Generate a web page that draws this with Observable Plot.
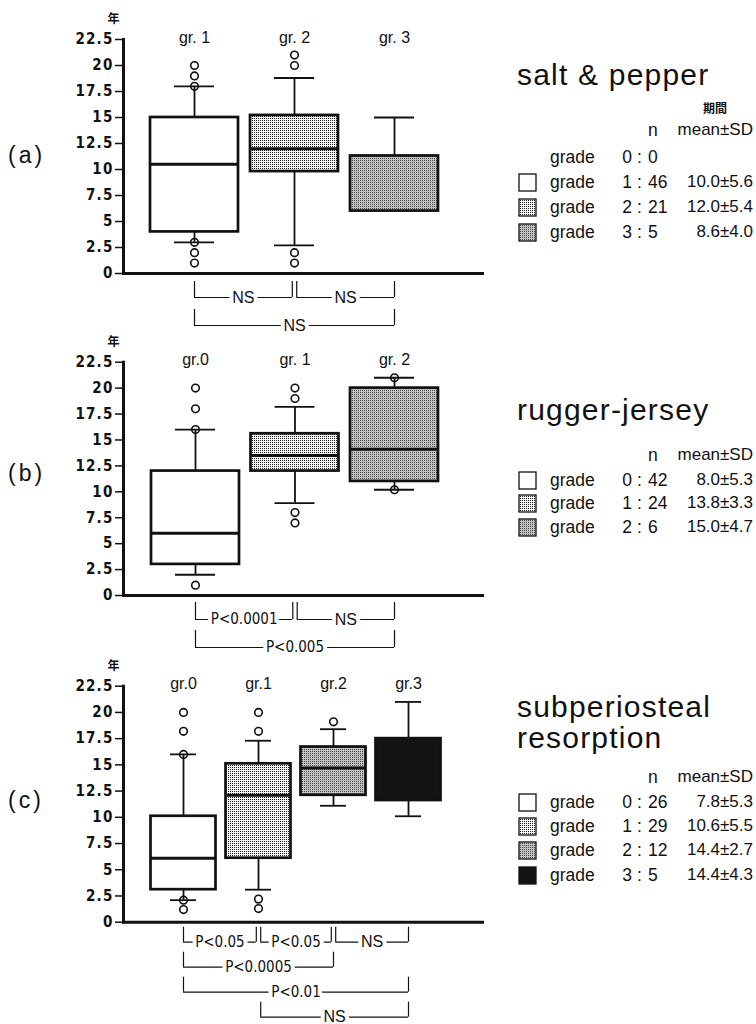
<!DOCTYPE html>
<html><head><meta charset="utf-8">
<script src="https://cdn.jsdelivr.net/npm/d3@7"></script>
<script src="https://cdn.jsdelivr.net/npm/@observablehq/plot@0.6"></script>
<style>
body{margin:0;background:#fff;}
#fig{position:relative;width:756px;height:1024px;overflow:hidden;font-family:"Liberation Sans",Arial,sans-serif;color:#111;background:#fff;}
.panel{position:absolute;left:0;}
.plab{position:absolute;left:8px;font-size:23px;letter-spacing:3px;line-height:24px;}
.ltitle{position:absolute;left:517px;font-size:30px;line-height:30px;letter-spacing:1.2px;white-space:nowrap;}
.abs{position:absolute;white-space:nowrap;line-height:20px;height:20px;}
.lg{font-size:17.5px;}
.num{font-size:17px;}
.kanji{font-family:"Noto Sans CJK JP",sans-serif;font-weight:bold;font-size:12px;}
g[aria-label="y-axis tick label"] text{letter-spacing:1.2px;}
</style>
</head><body>
<svg width="0" height="0" style="position:absolute">
<defs>
<pattern id="dot1" width="2" height="2" patternUnits="userSpaceOnUse"><rect width="2" height="2" fill="#f4f4f4"/><rect width="1" height="1" fill="#222"/></pattern>
<pattern id="dot2" width="2" height="2" patternUnits="userSpaceOnUse"><rect width="2" height="2" fill="#c2c2c2"/><rect width="1" height="1" fill="#4a4a4a"/></pattern>
</defs></svg>
<div id="fig"></div>
<script>
const yTicks = [0, 2.5, 5, 7.5, 10, 12.5, 15, 17.5, 20, 22.5];

// ---- (a) salt & pepper ----
const groupsA = ["gr. 1", "gr. 2", "gr. 3"];
const q1A = [4, 9.8, 6];
const medA = [10.5, 12, null];
const q3A = [15, 15.2, 11.3];
const loA = [3, 2.7, null];
const hiA = [18, 18.8, 15];
const outA = [[20, 19, 18, 3, 2, 1], [21, 20, 2, 1], []];
const bracketsA = [[0, 1, 0, "NS"], [1, 2, 0, "NS"], [0, 2, 1, "NS"]];
const titleA = ["salt & pepper"];
const gradeA = ["0", "1", "2", "3"];
const nA = ["0", "46", "21", "5"];
const meanA = ["", "10.0±5.6", "12.0±5.4", "8.6±4.0"];

// ---- (b) rugger-jersey ----
const groupsB = ["gr.0", "gr. 1", "gr. 2"];
const q1B = [3, 12, 11];
const medB = [6, 13.5, 14.1];
const q3B = [12, 15.6, 20];
const loB = [2, 8.9, 10.2];
const hiB = [16, 18.2, 21];
const outB = [[20, 18, 16, 1], [20, 19, 8, 7], [21, 10.2]];
const bracketsB = [[0, 1, 0, "P<0.0001"], [1, 2, 0, "NS"], [0, 2, 1, "P<0.005"]];
const titleB = ["rugger-jersey"];
const gradeB = ["0", "1", "2"];
const nB = ["42", "24", "6"];
const meanB = ["8.0±5.3", "13.8±3.3", "15.0±4.7"];

// ---- (c) subperiosteal resorption ----
const groupsC = ["gr.0", "gr.1", "gr.2", "gr.3"];
const q1C = [3.1, 6.1, 12.1, 11.6];
const medC = [6.1, 12.1, 14.7, null];
const q3C = [10.1, 15.1, 16.7, 17.5];
const loC = [2.1, 3.1, 11.1, 10.1];
const hiC = [16, 17.3, 18.4, 21];
const outC = [[20, 18.2, 16, 2.1, 1.2], [20, 18.2, 2.2, 1.3], [19.1], []];
const bracketsC = [[0, 1, 0, "P<0.05"], [1, 2, 0, "P<0.05"], [2, 3, 0, "NS"], [0, 2, 1, "P<0.0005"], [0, 3, 2, "P<0.01"], [1, 3, 3, "NS"]];
const titleC = ["subperiosteal", "resorption"];
const gradeC = ["0", "1", "2", "3"];
const nC = ["26", "29", "12", "5"];
const meanC = ["7.8±5.3", "10.6±5.5", "14.4±2.7", "14.4±4.3"];

// ---- layout / style ----
const NARROW = '"Liberation Sans Narrow","DejaVu Sans Condensed","Roboto Condensed",sans-serif';
const panels = [
  {d:{groups:groupsA,q1:q1A,med:medA,q3:q3A,lo:loA,hi:hiA,out:outA,brackets:bracketsA},
   L:{top:0,height:335,y22:39,y0:273,c0:194,c1:394,hw:44,cap:20,rowTop:8,rowGap:28,rowH:16,
      fills:["#fff","url(#dot1)","url(#dot2)"],label:"(a)",labelY:155},
   G:{title:titleA,titleTops:[60],kanji:true,kanjiY:108,headerY:130,rowsY:[157,182,207,232],
      grade:gradeA,n:nA,mean:meanA,fills:[null,"#fff","url(#dot1)","url(#dot2)"]}},
  {d:{groups:groupsB,q1:q1B,med:medB,q3:q3B,lo:loB,hi:hiB,out:outB,brackets:bracketsB},
   L:{top:322,height:335,y22:361.7,y0:595,c0:195,c1:394,hw:44,cap:20,rowTop:7,rowGap:28,rowH:17,
      fills:["#fff","url(#dot1)","url(#dot2)"],label:"(b)",labelY:473},
   G:{title:titleB,titleTops:[395],kanji:false,headerY:455,rowsY:[480,503,527],
      grade:gradeB,n:nB,mean:meanB,fills:["#fff","url(#dot1)","url(#dot2)"]}},
  {d:{groups:groupsC,q1:q1C,med:medC,q3:q3C,lo:loC,hi:hiC,out:outC,brackets:bracketsC},
   L:{top:645,height:379,y22:685.7,y0:921.7,c0:183,c1:408,hw:32.5,cap:13,rowTop:5,rowGap:25,rowH:15,
      fills:["#fff","url(#dot1)","url(#dot2)","#141414"],label:"(c)",labelY:800},
   G:{title:titleC,titleTops:[692,723],kanji:false,headerY:777,rowsY:[802,826,850,875],
      grade:gradeC,n:nC,mean:meanC,fills:["#fff","url(#dot1)","url(#dot2)","#141414"]}}
];

const fig = document.getElementById("fig");

function makePanel(d, L) {
  const n = d.groups.length;
  const ppu = (L.y0 - L.y22) / 22.5;
  const sp = (L.c1 - L.c0) / (n - 1);
  const hw = L.hw / sp, cap = L.cap / sp, gap = 2.2 / sp;
  const rows = d.groups.map((g, i) => ({i, g, q1: d.q1[i], med: d.med[i], q3: d.q3[i], lo: d.lo[i], hi: d.hi[i], fill: L.fills[i]}));
  const outs = d.out.flatMap((arr, i) => arr.map(v => ({i, v})));
  const br = d.brackets.map(([a, b, row, label]) => {
    const t = L.rowTop + L.rowGap * row;
    return {x1: a + (a > 0 ? gap : 0), x2: b - (row === 0 && b < n - 1 ? gap : 0), yTop: -t / ppu, yBot: -(t + L.rowH) / ppu, label};
  });
  const withLo = rows.filter(r => r.lo != null);
  const withMed = rows.filter(r => r.med != null);
  const plot = Plot.plot({
    width: 490, height: L.height,
    marginTop: L.y22 - L.top, marginBottom: L.top + L.height - L.y0,
    marginLeft: 123, marginRight: 8,
    x: {type: "linear", domain: [0, n - 1], range: [L.c0, L.c1], axis: null},
    y: {domain: [0, 22.5], axis: null},
    style: {background: "transparent", color: "#111", overflow: "visible"},
    marks: [
      Plot.axisY({ticks: yTicks, tickFormat: v => String(v), tickSize: 8, tickPadding: 2, fontSize: 15, fontWeight: "bold", fontFamily: NARROW, strokeWidth: 1.5}),
      Plot.text(["年"], {frameAnchor: "top-left", dx: -16, dy: -25, fontSize: 12, fontWeight: "bold", fontFamily: '"Noto Sans CJK JP",sans-serif'}),
      Plot.text(rows, {x: "i", y: 22.5, text: "g", dy: -2, fontSize: 16, fontFamily: '"Liberation Sans",Arial,sans-serif'}),
      Plot.ruleX(rows, {x: "i", y1: "q3", y2: "hi", strokeWidth: 1.8}),
      Plot.ruleX(withLo, {x: "i", y1: "lo", y2: "q1", strokeWidth: 1.8}),
      Plot.ruleY(rows, {y: "hi", x1: r => r.i - cap, x2: r => r.i + cap, strokeWidth: 1.8}),
      Plot.ruleY(withLo, {y: "lo", x1: r => r.i - cap, x2: r => r.i + cap, strokeWidth: 1.8}),
      ...rows.map(r => Plot.rect([r], {x1: q => q.i - hw, x2: q => q.i + hw, y1: "q1", y2: "q3", fill: r.fill, stroke: "#111", strokeWidth: 2.7})),
      Plot.ruleY(withMed, {y: "med", x1: r => r.i - hw, x2: r => r.i + hw, strokeWidth: 3}),
      Plot.dot(outs, {x: "i", y: "v", r: 3.8, stroke: "#111", strokeWidth: 1.6, fill: "none"}),
      Plot.ruleX(br, {x: "x1", y1: "yTop", y2: "yBot", strokeWidth: 1.2}),
      Plot.ruleX(br, {x: "x2", y1: "yTop", y2: "yBot", strokeWidth: 1.2}),
      Plot.ruleY(br, {y: "yBot", x1: "x1", x2: "x2", strokeWidth: 1.2}),
      Plot.text(br.filter(b => b.label.startsWith("P")), {x: b => (b.x1 + b.x2) / 2, y: "yBot", text: "label", fontSize: 15, fontFamily: NARROW, fill: "#111", stroke: "white", strokeWidth: 8, paintOrder: "stroke"}),
      Plot.text(br.filter(b => !b.label.startsWith("P")), {x: b => (b.x1 + b.x2) / 2, y: "yBot", text: "label", fontSize: 16, fontFamily: '"Liberation Sans",Arial,sans-serif', fill: "#111", stroke: "white", strokeWidth: 8, paintOrder: "stroke"}),
      Plot.frame({anchor: "left", strokeWidth: 3}),
      Plot.frame({anchor: "bottom", strokeWidth: 3})
    ]
  });
  const wrap = document.createElement("div");
  wrap.className = "panel";
  wrap.style.top = L.top + "px";
  wrap.appendChild(plot);
  fig.appendChild(wrap);
  const lab = document.createElement("div");
  lab.className = "plab";
  lab.textContent = L.label;
  lab.style.top = (L.labelY - 12) + "px";
  fig.appendChild(lab);
}

function el(cls, text, style) {
  const e = document.createElement("div");
  e.className = cls;
  e.textContent = text;
  Object.assign(e.style, style);
  fig.appendChild(e);
  return e;
}

function makeLegend(G) {
  G.title.forEach((t, k) => el("ltitle", t, {top: G.titleTops[k] + "px"}));
  if (G.kanji) el("abs kanji", "期間", {right: "29px", top: (G.kanjiY - 10) + "px"});
  el("abs lg", "n", {left: "648px", top: (G.headerY - 10) + "px"});
  el("abs num", "mean±SD", {right: "3px", top: (G.headerY - 10) + "px"});
  G.grade.forEach((g, k) => {
    const cy = G.rowsY[k];
    const top = (cy - 10) + "px";
    if (G.fills[k]) {
      const s = document.createElementNS("http://www.w3.org/2000/svg", "svg");
      s.setAttribute("width", 19); s.setAttribute("height", 19);
      s.style.position = "absolute"; s.style.left = "518px"; s.style.top = (cy - 9) + "px";
      const r = document.createElementNS("http://www.w3.org/2000/svg", "rect");
      r.setAttribute("x", 1); r.setAttribute("y", 1); r.setAttribute("width", 17); r.setAttribute("height", 17);
      r.setAttribute("fill", G.fills[k]); r.setAttribute("stroke", "#111"); r.setAttribute("stroke-width", 1.3);
      s.appendChild(r); fig.appendChild(s);
    }
    el("abs lg", "grade", {left: "550px", top});
    el("abs lg", g, {right: (756 - 632) + "px", top});
    el("abs lg", ":", {left: "637px", top});
    el("abs lg", G.n[k], {left: "648px", top});
    if (G.mean[k]) el("abs num", G.mean[k], {right: "3px", top});
  });
}

panels.forEach(p => { makePanel(p.d, p.L); makeLegend(p.G); });
</script>
</body></html>
